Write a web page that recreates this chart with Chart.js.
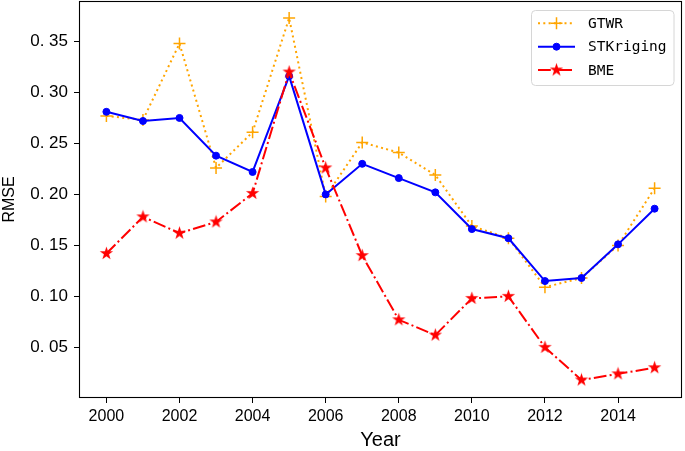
<!DOCTYPE html>
<html>
<head>
<meta charset="utf-8">
<script src="https://cdn.jsdelivr.net/npm/chart.js@4.4.1/dist/chart.umd.min.js"></script>
<style>
  html, body { margin: 0; padding: 0; background: #fff; }
  #wrap { width: 685px; height: 451px; }
</style>
</head>
<body>
<div id="wrap"><canvas id="chart" width="685" height="451"></canvas></div>
<script>
const years = [2000, 2001, 2002, 2003, 2004, 2005, 2006, 2007, 2008, 2009, 2010, 2011, 2012, 2013, 2014, 2015];
const gtwrValues = [0.277, 0.273, 0.348, 0.226, 0.261, 0.373, 0.198, 0.251, 0.241, 0.219, 0.169, 0.157, 0.109, 0.118, 0.150, 0.206];
const stkValues = [0.281, 0.272, 0.275, 0.238, 0.222, 0.316, 0.200, 0.230, 0.216, 0.202, 0.166, 0.157, 0.115, 0.118, 0.151, 0.186];
const bmeValues = [0.142, 0.178, 0.162, 0.173, 0.201, 0.320, 0.226, 0.140, 0.077, 0.062, 0.098, 0.100, 0.050, 0.018, 0.024, 0.030];
const xTicks = [2000, 2002, 2004, 2006, 2008, 2010, 2012, 2014];
const yTicks = [0.05, 0.10, 0.15, 0.20, 0.25, 0.30, 0.35];

const ORANGE = "#FFA500";
const BLUE = "#0000FF";
const RED = "#FF0000";

// filled five point star, like the matplotlib "*" marker
function makeStar(size, color) {
  const c = document.createElement("canvas");
  c.width = size;
  c.height = size;
  const ctx = c.getContext("2d");
  const cx = size / 2, cy = size / 2;
  const outer = size / 2 - 0.5, inner = outer * 0.382;
  ctx.beginPath();
  for (let i = 0; i < 10; i++) {
    const r = i % 2 === 0 ? outer : inner;
    const a = -Math.PI / 2 + i * Math.PI / 5;
    ctx.lineTo(cx + r * Math.cos(a), cy + r * Math.sin(a));
  }
  ctx.closePath();
  ctx.fillStyle = color;
  ctx.fill();
  return c;
}
const starImg = makeStar(15, RED);

const toPoints = (values) => values.map((v, i) => ({ x: years[i], y: v }));

const seriesStyles = [
  { label: "GTWR", color: ORANGE, dash: [2, 3.3], pointStyle: "cross", radius: 6, pointBorderWidth: 1.5 },
  { label: "STKriging", color: BLUE, dash: [], pointStyle: "circle", radius: 3.5, pointBorderWidth: 1 },
  { label: "BME", color: RED, dash: [12.8, 3.2, 2, 3.2], pointStyle: starImg, radius: 7, pointBorderWidth: 1 },
];

const framePlugin = {
  id: "frame",
  afterDatasetsDraw(chart) {
    const { ctx, chartArea: a } = chart;
    ctx.save();
    ctx.strokeStyle = "#000";
    ctx.lineWidth = 1.1;
    ctx.strokeRect(Math.round(a.left) + 0.5, Math.round(a.top) + 0.5,
      Math.round(a.right - a.left) - 1, Math.round(a.bottom - a.top) - 1);
    ctx.restore();
  },
};

// matplotlib style legend in the upper right of the axes
const legendPlugin = {
  id: "mplLegend",
  afterDraw(chart) {
    const { ctx } = chart;
    const box = { x: 531.5, y: 10.5, w: 142.5, h: 75, r: 4 };
    ctx.save();
    ctx.beginPath();
    ctx.roundRect(box.x, box.y, box.w, box.h, box.r);
    ctx.fillStyle = "rgba(255,255,255,0.85)";
    ctx.fill();
    ctx.strokeStyle = "#d6d6d6";
    ctx.lineWidth = 1;
    ctx.stroke();

    const rows = [23.3, 46.7, 70];
    const x0 = 538, x1 = 575, xm = (x0 + x1) / 2;
    seriesStyles.forEach((s, i) => {
      const y = rows[i];
      ctx.beginPath();
      ctx.setLineDash(s.dash);
      ctx.strokeStyle = s.color;
      ctx.lineWidth = 2;
      ctx.moveTo(x0, y);
      ctx.lineTo(x1, y);
      ctx.stroke();
      ctx.setLineDash([]);
      ctx.fillStyle = s.color;
      ctx.strokeStyle = s.color;
      ctx.lineWidth = s.pointBorderWidth;
      Chart.helpers.drawPoint(ctx, {
        pointStyle: s.pointStyle,
        radius: s.radius,
        borderWidth: s.pointBorderWidth,
        rotation: 0,
      }, xm, y);
      ctx.fillStyle = "#000";
      ctx.font = "14.5px 'DejaVu Sans Mono'";
      ctx.textBaseline = "middle";
      ctx.textAlign = "left";
      ctx.fillText(s.label, 588, y + 1);
    });
    ctx.restore();
  },
};

const datasets = [gtwrValues, stkValues, bmeValues].map((values, i) => {
  const s = seriesStyles[i];
  return {
    label: s.label,
    data: toPoints(values),
    borderColor: s.color,
    backgroundColor: s.color,
    borderWidth: 2,
    borderDash: s.dash,
    pointStyle: s.pointStyle,
    pointRadius: s.radius,
    pointHoverRadius: s.radius,
    pointBorderWidth: s.pointBorderWidth,
    pointBorderColor: s.color,
    pointBackgroundColor: s.color,
    tension: 0,
    order: 2 - i,
  };
});

new Chart(document.getElementById("chart"), {
  type: "line",
  data: { datasets },
  plugins: [framePlugin, legendPlugin],
  options: {
    responsive: false,
    animation: false,
    layout: { autoPadding: false, padding: { left: 0, top: 1, right: 3, bottom: 0 } },
    plugins: {
      legend: { display: false },
      tooltip: { enabled: false },
    },
    scales: {
      x: {
        type: "linear",
        min: 1999.25,
        max: 2015.75,
        afterBuildTicks: (scale) => { scale.ticks = xTicks.map((v) => ({ value: v })); },
        afterFit: (scale) => {
          scale.height = 53;
          scale.paddingLeft = 0;
          scale.paddingRight = 0;
        },
        border: { display: false },
        grid: { drawOnChartArea: false, drawTicks: true, tickLength: 5, tickColor: "#000", tickWidth: 1 },
        ticks: {
          color: "#000",
          padding: 4,
          maxRotation: 0,
          font: { family: "'Liberation Sans'", size: 16 },
          callback: (v) => String(v),
        },
        title: {
          display: true,
          text: "Year",
          color: "#000",
          padding: { top: 0, bottom: -1 },
          font: { family: "'Liberation Sans'", size: 20 },
        },
      },
      y: {
        type: "linear",
        min: 0.0003,
        max: 0.3897,
        afterBuildTicks: (scale) => { scale.ticks = yTicks.map((v) => ({ value: v })); },
        afterFit: (scale) => {
          scale.width = 79;
          scale.paddingTop = 0;
          scale.paddingBottom = 0;
        },
        border: { display: false },
        grid: { drawOnChartArea: false, drawTicks: true, tickLength: 5, tickColor: "#000", tickWidth: 1 },
        ticks: {
          color: "#000",
          padding: 6,
          font: { family: "'Liberation Sans'", size: 17 },
          callback: (v) => v.toFixed(2).replace(".", ". "),
        },
        title: {
          display: true,
          text: "RMSE",
          color: "#000",
          padding: { top: 0, bottom: 0 },
          font: { family: "'Liberation Sans'", size: 16 },
        },
      },
    },
  },
});
</script>
</body>
</html>
